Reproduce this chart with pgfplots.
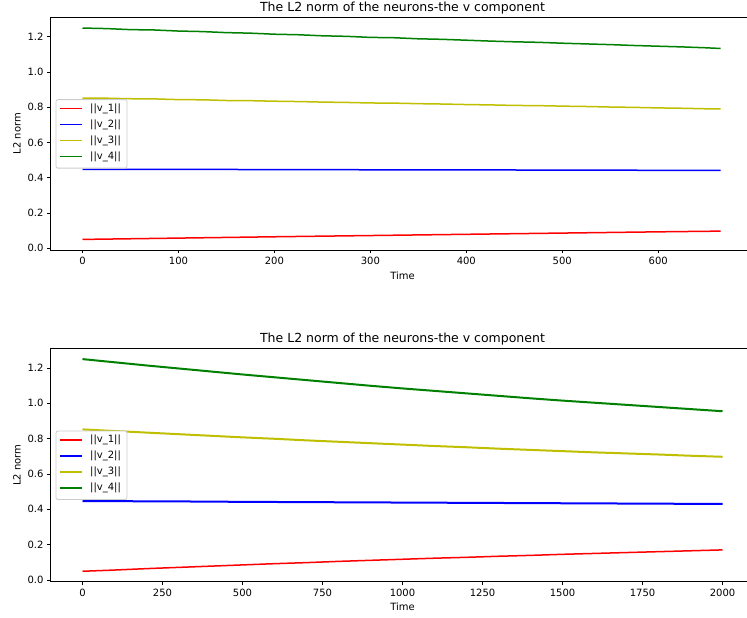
\documentclass[border=0pt]{standalone}
\usepackage{fontspec}
\setmainfont{DejaVu Sans}
\usepackage{pgfplots}
\pgfplotsset{compat=1.18}
\definecolor{mgreen}{rgb}{0,0.5,0}
\definecolor{myellow}{rgb}{0.75,0.75,0}
\definecolor{legframe}{rgb}{0.8,0.8,0.8}
\pgfplotsset{
  mpl/.style={
    scale only axis,
    width=704pt,
    axis line style={line width=0.8pt, black},
    tick align=outside,
    tick pos=left,
    major tick length=3.5pt,
    every tick/.style={line width=0.8pt, black},
    ymin=-0.01, ymax=1.31,
    ytick={0,0.2,0.4,0.6,0.8,1.0,1.2},
    yticklabel style={/pgf/number format/.cd, fixed, fixed zerofill, precision=1},
    xticklabel style={/pgf/number format/.cd, fixed, 1000 sep={}},
    /pgf/number format/assume math mode=true,
    tick label style={font=\fontsize{10}{12}\selectfont},
    label style={font=\fontsize{10}{12}\selectfont},
    xlabel={Time},
    ylabel={L2 norm},
    title={The L2 norm of the neurons-the v component},
    title style={font=\fontsize{12.5}{14}\selectfont, at={(0.5,1)}, anchor=base, yshift=0pt, inner sep=0pt},
    every axis plot/.append style={line width=1.5pt, no marks},
  }
}
% legend box (matplotlib style, loc = center left)
\newcommand\leglabel[3]{%
  \draw[#1, line width=1.5pt] ([xshift=9.5pt,yshift=#2]axis description cs:0,0.5) -- ([xshift=31.5pt,yshift=#2]axis description cs:0,0.5);
  \node[anchor=west, inner sep=0pt, font=\fontsize{10}{12}\selectfont] at ([xshift=39.5pt,yshift=#2]axis description cs:0,0.5) {#3};
}
\newcommand\mpllegend{%
  \draw[legframe, line width=0.8pt, fill=white, rounded corners=2pt] ([xshift=5.5pt,yshift=34pt]axis description cs:0,0.5) rectangle ([xshift=76.5pt,yshift=-34.5pt]axis description cs:0,0.5);
  \leglabel{red}{25pt}{||v\_1||}
  \leglabel{blue}{9pt}{||v\_2||}
  \leglabel{myellow}{-7pt}{||v\_3||}
  \leglabel{mgreen}{-23pt}{||v\_4||}
}
\begin{document}
\begin{tikzpicture}[x=1pt,y=1pt]
\begin{axis}[mpl, at={(50.5pt,368pt)}, anchor=south west, height=232.7pt,
  xmin=-33.35, xmax=700.35, xtick={0,100,200,300,400,500,600}]
\addplot[red] coordinates {(0,0.050) (100,0.0575) (200,0.065) (300,0.072) (400,0.079) (500,0.086) (600,0.093) (665,0.097)};
\addplot[blue] coordinates {(0,0.448) (50,0.4475) (100,0.447) (150,0.4468) (200,0.446) (250,0.4458) (300,0.445) (350,0.4448) (400,0.444) (450,0.4438) (500,0.443) (550,0.4428) (600,0.442) (665,0.442)};
\addplot[myellow] coordinates {(0,0.852) (25,0.851) (50,0.848) (75,0.847) (100,0.843) (125,0.842) (150,0.838) (175,0.837) (200,0.834) (225,0.832) (250,0.829) (275,0.827) (300,0.824) (325,0.823) (350,0.820) (375,0.818) (400,0.815) (425,0.813) (450,0.810) (475,0.809) (500,0.806) (525,0.804) (550,0.801) (575,0.799) (600,0.796) (625,0.794) (650,0.791) (665,0.790)};
\addplot[mgreen] coordinates {(0,1.249) (25,1.246) (50,1.240) (75,1.238) (100,1.232) (125,1.229) (150,1.223) (175,1.220) (200,1.214) (225,1.211) (250,1.205) (275,1.202) (300,1.196) (325,1.194) (350,1.188) (375,1.185) (400,1.180) (425,1.175) (450,1.171) (475,1.168) (500,1.163) (525,1.159) (550,1.155) (575,1.150) (600,1.146) (625,1.142) (650,1.137) (665,1.133)};
\mpllegend
\end{axis}
\begin{axis}[mpl, at={(50.5pt,36.3pt)}, anchor=south west, height=233.2pt,
  xmin=-100, xmax=2100, xtick={0,250,500,750,1000,1250,1500,1750,2000}]
\addplot[red] coordinates {(0,0.049) (100,0.056) (200,0.064) (300,0.071) (400,0.078) (500,0.085) (600,0.092) (700,0.098) (800,0.105) (900,0.111) (1000,0.117) (1100,0.123) (1200,0.128) (1300,0.134) (1400,0.139) (1500,0.145) (1600,0.150) (1700,0.155) (1800,0.160) (1900,0.165) (2000,0.170)};
\addplot[blue, line width=2pt] coordinates {(0,0.446) (250,0.445) (500,0.442) (750,0.440) (1000,0.438) (1250,0.436) (1500,0.434) (1750,0.432) (2000,0.430)};
\addplot[myellow, line width=2pt] coordinates {(0,0.852) (100,0.843) (200,0.834) (300,0.825) (400,0.816) (500,0.807) (600,0.799) (700,0.790) (800,0.782) (900,0.774) (1000,0.766) (1100,0.758) (1200,0.751) (1300,0.743) (1400,0.736) (1500,0.729) (1600,0.722) (1700,0.716) (1800,0.710) (1900,0.703) (2000,0.697)};
\addplot[mgreen, line width=2pt] coordinates {(0,1.250) (100,1.232) (200,1.214) (300,1.197) (400,1.180) (500,1.163) (600,1.147) (700,1.131) (800,1.115) (900,1.099) (1000,1.084) (1100,1.070) (1200,1.056) (1300,1.042) (1400,1.028) (1500,1.015) (1600,1.003) (1700,0.991) (1800,0.979) (1900,0.967) (2000,0.955)};
\mpllegend
\end{axis}
\pgfresetboundingbox
\path[use as bounding box] (0pt,0pt) rectangle (747pt,618pt);
\end{tikzpicture}
\end{document}
